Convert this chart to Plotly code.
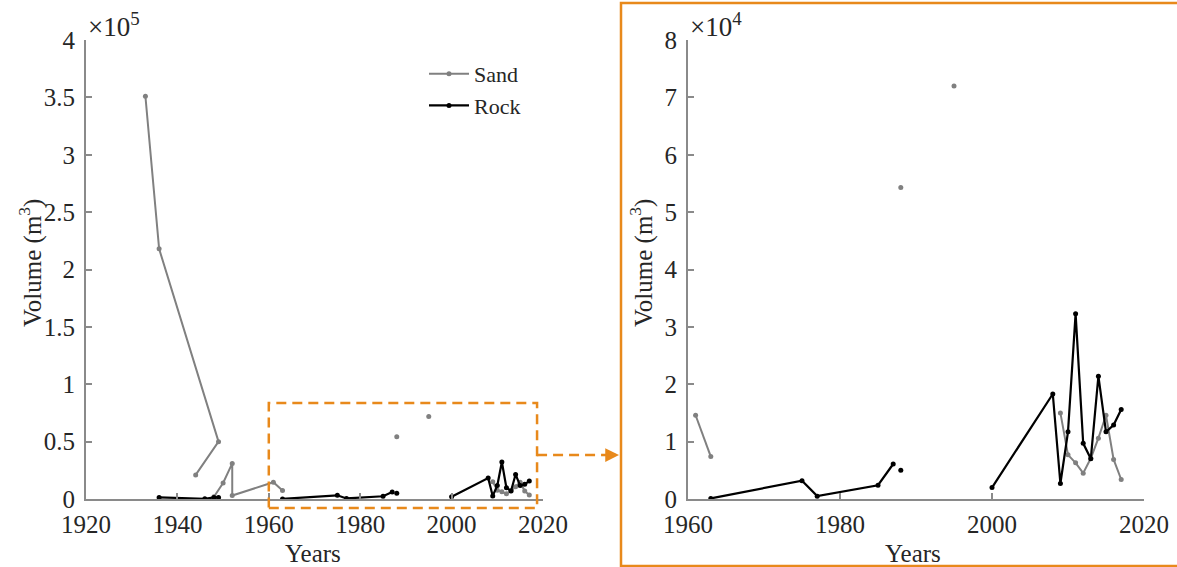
import plotly.graph_objects as go

# ---------------- data ----------------
# None marks a break in the line
sand_years = [1933, 1936, 1949, 1944, None, 1948, 1950, 1952, 1952, 1961, 1963, None,
              1988, None, 1995, None,
              2009, 2010, 2011, 2012, 2013, 2014, 2015, 2016, 2017]
sand_volume = [351000, 218000, 50000, 21000, None, 2000, 14000, 31000, 3000, 14600, 7400, None,
               54300, None, 72000, None,
               15000, 7700, 6300, 4500, 7100, 10600, 14600, 6900, 3400]

rock_years = [1936, 1946, 1948, 1949, None,
              1963, 1975, 1977, 1985, 1987, None, 1988, None,
              2000, 2008, 2009, 2010, 2011, 2012, 2013, 2014, 2015, 2016, 2017]
rock_volume = [1400, 200, 1400, 1400, None,
               100, 3200, 500, 2400, 6100, None, 5000, None,
               2000, 18300, 2700, 11700, 32300, 9700, 7000, 21400, 11700, 12900, 15600]

left_xticks = [1920, 1940, 1960, 1980, 2000, 2020]
left_yticks = [0, 50000, 100000, 150000, 200000, 250000, 300000, 350000, 400000]
left_ytext = ["0", "0.5", "1", "1.5", "2", "2.5", "3", "3.5", "4"]
right_xticks = [1960, 1980, 2000, 2020]
right_yticks = [0, 10000, 20000, 30000, 40000, 50000, 60000, 70000, 80000]
right_ytext = ["0", "1", "2", "3", "4", "5", "6", "7", "8"]

zoom_x = [1960, 2018.7]     # zoom window shown on the left chart
zoom_y = [-7800, 83700]

# ---------------- style ----------------
W, H = 1177, 567
FONT = "Liberation Serif"
SAND_C = "#808080"
ROCK_C = "#000000"
AXIS_C = "#8a8a8a"
TEXT_C = "#262626"
ORANGE = "#E8891B"

L_px = (86, 543)
R_px = (688, 1144)
Y_px = (40, 499)   # top, bottom

def px_x(p):
    return p / W

def px_y(p):
    return 1 - p / H

xL_dom = [px_x(L_px[0]), px_x(L_px[1])]
xR_dom = [px_x(R_px[0]), px_x(R_px[1])]
y_dom = [px_y(Y_px[1]), px_y(Y_px[0])]


def right_part(xs, ys, start=1960):
    ox, oy = [], []
    for x, y in zip(xs, ys):
        if x is None or x >= start:
            ox.append(x)
            oy.append(y)
    return ox, oy


fig = go.Figure()

fig.add_trace(go.Scatter(x=sand_years, y=sand_volume, name="Sand", mode="lines+markers",
                         line=dict(color=SAND_C, width=2), marker=dict(color=SAND_C, size=5),
                         xaxis="x", yaxis="y"))
fig.add_trace(go.Scatter(x=rock_years, y=rock_volume, name="Rock", mode="lines+markers",
                         line=dict(color=ROCK_C, width=2.2), marker=dict(color=ROCK_C, size=5),
                         xaxis="x", yaxis="y"))

sx, sy = right_part(sand_years, sand_volume)
rx, ry = right_part(rock_years, rock_volume)
fig.add_trace(go.Scatter(x=sx, y=sy, name="Sand", mode="lines+markers", showlegend=False,
                         line=dict(color=SAND_C, width=2), marker=dict(color=SAND_C, size=5),
                         xaxis="x2", yaxis="y2"))
fig.add_trace(go.Scatter(x=rx, y=ry, name="Rock", mode="lines+markers", showlegend=False,
                         line=dict(color=ROCK_C, width=2.2), marker=dict(color=ROCK_C, size=5),
                         xaxis="x2", yaxis="y2"))

axis_common = dict(showline=True, linecolor=AXIS_C, linewidth=2, ticks="inside", ticklen=6,
                   tickcolor=AXIS_C, tickwidth=1.5, showgrid=False, zeroline=False,
                   automargin=False,
                   tickfont=dict(family=FONT, size=25, color=TEXT_C), mirror=False)

fig.update_layout(
    width=W, height=H, margin=dict(l=0, r=0, t=0, b=0, pad=0, autoexpand=False),
    paper_bgcolor="white", plot_bgcolor="white",
    font=dict(family=FONT, color=TEXT_C),
    xaxis=dict(domain=xL_dom, range=[1920, 2020], tickvals=left_xticks, anchor="y",
               ticklabelstandoff=2, **axis_common),
    yaxis=dict(domain=y_dom, range=[0, 400000], tickvals=left_yticks, ticktext=left_ytext,
               anchor="x", ticklabelstandoff=4, **axis_common),
    xaxis2=dict(domain=xR_dom, range=[1960, 2020], tickvals=right_xticks, anchor="y2",
                ticklabelstandoff=2, **axis_common),
    yaxis2=dict(domain=y_dom, range=[0, 80000], tickvals=right_yticks, ticktext=right_ytext,
                anchor="x2", ticklabelstandoff=4, **axis_common),
    showlegend=True,
    legend=dict(x=px_x(424), y=px_y(53), xanchor="left", yanchor="top",
                font=dict(family=FONT, size=22, color=TEXT_C), bgcolor="rgba(0,0,0,0)",
                tracegroupgap=0, itemwidth=40),
)

# zoom window on left chart (converted from left-axis data coordinates to paper)
def left_data_to_paper(x, y):
    fx = xL_dom[0] + (x - 1920) / 100 * (xL_dom[1] - xL_dom[0])
    fy = y_dom[0] + y / 400000 * (y_dom[1] - y_dom[0])
    return fx, fy

zx0, zy0 = left_data_to_paper(zoom_x[0], zoom_y[0])
zx1, zy1 = left_data_to_paper(zoom_x[1], zoom_y[1])
fig.add_shape(type="rect", xref="paper", yref="paper", x0=zx0, y0=zy0, x1=zx1, y1=zy1,
              line=dict(color=ORANGE, width=2.5, dash="10px,6px"))

# dashed arrow to the right panel
ay_paper = px_y(455)
fig.add_shape(type="line", xref="paper", yref="paper", x0=zx1, x1=px_x(611), y0=ay_paper, y1=ay_paper,
              line=dict(color=ORANGE, width=2.5, dash="10px,6px"))
fig.add_annotation(xref="paper", yref="paper", x=px_x(619), y=ay_paper, ax=-10, ay=0,
                   text="", showarrow=True, arrowhead=2, arrowsize=1.1, arrowwidth=2.5,
                   arrowcolor=ORANGE)

# frame around right panel
fig.add_shape(type="rect", xref="paper", yref="paper", x0=px_x(621), x1=px_x(1185),
              y0=px_y(566), y1=px_y(3), line=dict(color=ORANGE, width=2.5))

# exponent labels
for lx, txt in ((86, "×10<sup>5</sup>"), (688, "×10<sup>4</sup>")):
    fig.add_annotation(xref="paper", yref="paper", x=px_x(lx), y=px_y(25), xanchor="left",
                       yanchor="middle", text=txt, showarrow=False,
                       font=dict(family=FONT, size=27, color=TEXT_C))

# axis titles
for cx in (313, 913):
    fig.add_annotation(xref="paper", yref="paper", x=px_x(cx), y=px_y(553), text="Years",
                       xanchor="center", yanchor="middle",
                       showarrow=False, font=dict(family=FONT, size=25, color=TEXT_C))
for cx in (30, 641):
    fig.add_annotation(xref="paper", yref="paper", x=px_x(cx), y=px_y(263),
                       xanchor="center", yanchor="middle",
                       text="Volume (m<sup>3</sup>)", textangle=-90, showarrow=False,
                       font=dict(family=FONT, size=25, color=TEXT_C))

fig.write_html("out.html")
